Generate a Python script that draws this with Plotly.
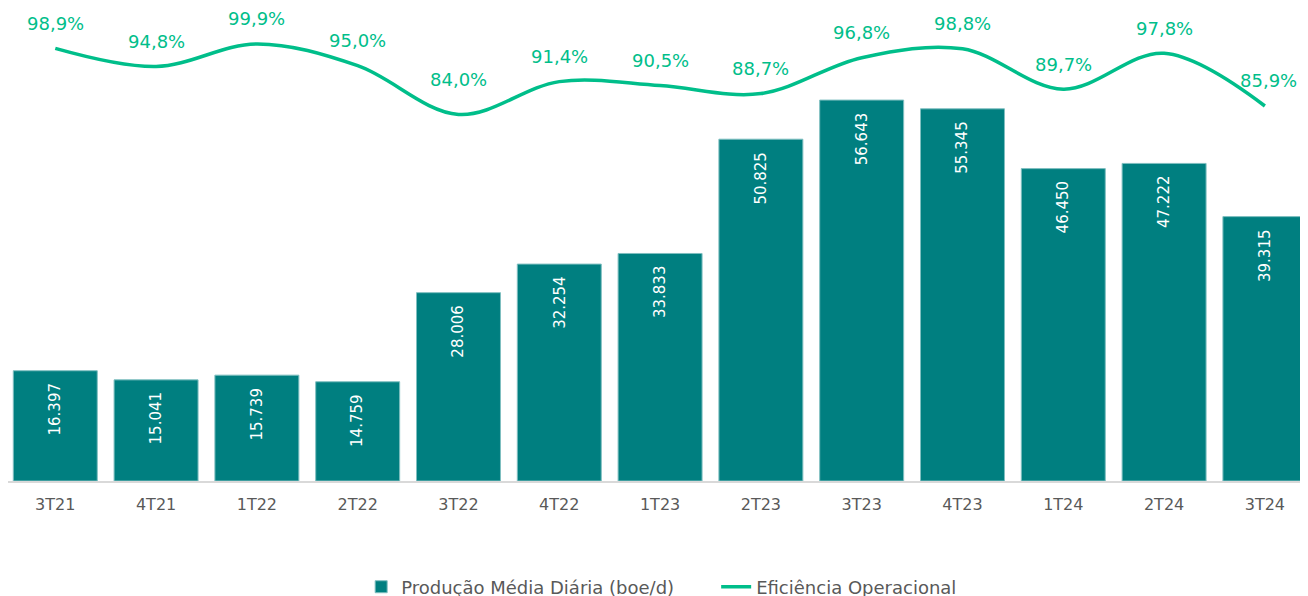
import plotly.graph_objects as go

# quarterly data
quarters = ["3T21", "4T21", "1T22", "2T22", "3T22", "4T22", "1T23",
            "2T23", "3T23", "4T23", "1T24", "2T24", "3T24"]
production = [16397, 15041, 15739, 14759, 28006, 32254, 33833,
              50825, 56643, 55345, 46450, 47222, 39315]
efficiency = [98.9, 94.8, 99.9, 95.0, 84.0, 91.4, 90.5,
              88.7, 96.8, 98.8, 89.7, 97.8, 85.9]

BAR = "#007F80"
LINE = "#00BE8A"
GREY = "#595959"
FONT = "DejaVu Sans"

# label nudges (px) where the original placed a label away from the default
label_nudge = {"3T22": (0, 35), "3T24": (4, 25)}

fig = go.Figure()

fig.add_trace(go.Bar(
    x=quarters, y=production,
    name="Produção Média Diária (boe/d)",
    marker=dict(color=BAR, line=dict(color="#7FBFC0", width=1)),
))

fig.add_trace(go.Scatter(
    x=quarters, y=efficiency, yaxis="y2",
    name="Eficiência Operacional",
    mode="lines",
    line=dict(color=LINE, width=3.5, shape="spline", smoothing=1),
))

annotations = []
for q, v in zip(quarters, production):
    annotations.append(dict(
        x=q, y=v, xref="x", yref="y",
        text=f"{v:,}".replace(",", "."),
        textangle=-90, showarrow=False,
        yanchor="top", yshift=-10,
        font=dict(family=FONT, size=15, color="white"),
    ))
for q, e in zip(quarters, efficiency):
    dx, dy = label_nudge.get(q, (0, 25))
    annotations.append(dict(
        x=q, y=e, xref="x", yref="y2",
        text=f"{e:.1f}%".replace(".", ","),
        showarrow=False, yanchor="middle", xshift=dx, yshift=dy,
        font=dict(family=FONT, size=18, color=LINE),
    ))

# page body adds an 8px offset, so the plot area starts at the figure's left edge
fig.update_layout(
    width=1308, height=596,
    margin=dict(l=0, r=0, t=12, b=123, autoexpand=False),
    plot_bgcolor="white", paper_bgcolor="white",
    font=dict(family=FONT, size=16, color=GREY),
    bargap=0.167,
    showlegend=True,
    legend=dict(orientation="h", x=0.27, xanchor="left", y=-0.23,
                yanchor="middle", font=dict(size=18, color=GREY),
                itemwidth=30, tracegroupgap=0, entrywidth=310),
    xaxis=dict(range=[-0.469, 12.507], showline=True, linecolor="#D9D9D9",
               linewidth=1.5, showgrid=False, ticks="", ticklabelstandoff=8,
               automargin=False, tickfont=dict(size=16, color=GREY)),
    yaxis=dict(range=[0, 68550], visible=False, showgrid=False),
    yaxis2=dict(range=[1.3, 105.3], overlaying="y", side="right",
                visible=False, showgrid=False),
    annotations=annotations,
)

fig.write_html("out.html")
